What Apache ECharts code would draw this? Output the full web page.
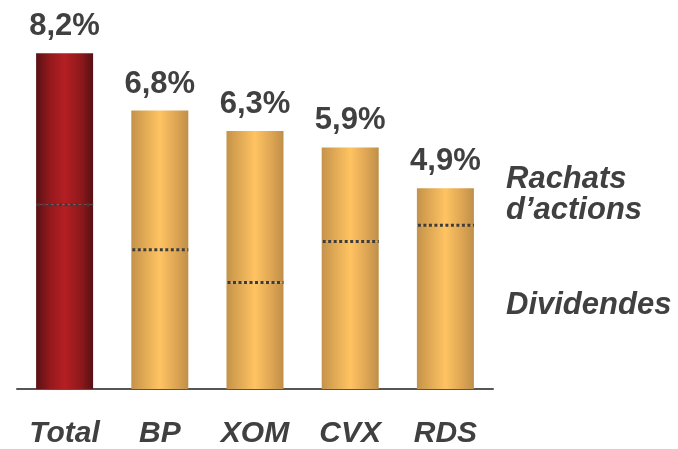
<!DOCTYPE html>
<html>
<head>
<meta charset="utf-8">
<script src="https://cdn.jsdelivr.net/npm/echarts@6/dist/echarts.min.js"></script>
<style>
  html, body { margin: 0; padding: 0; background: #fff; }
  #main { width: 678px; height: 449px; }
</style>
</head>
<body>
<div id="main"></div>
<script>
var categories = ['Total', 'BP', 'XOM', 'CVX', 'RDS'];
var totalYield = [8.2, 6.8, 6.3, 5.9, 4.9];
var dividends = [4.5, 3.4, 2.6, 3.6, 4.0];
var buybacks = totalYield.map(function (t, i) { return +(t - dividends[i]).toFixed(1); });

var FONT = 'Liberation Sans, Arial, sans-serif';
var TEXT = '#404040';
var BAR_W = 57;

function goldGrad() {
  return new echarts.graphic.LinearGradient(0, 0, 1, 0, [
    { offset: 0, color: '#c4924a' },
    { offset: 0.2, color: '#dca653' },
    { offset: 0.5, color: '#ffc362' },
    { offset: 0.8, color: '#dca453' },
    { offset: 1, color: '#bf8f48' }
  ]);
}
function redGrad() {
  return new echarts.graphic.LinearGradient(0, 0, 1, 0, [
    { offset: 0, color: '#5a1115' },
    { offset: 0.25, color: '#95191d' },
    { offset: 0.5, color: '#b41f23' },
    { offset: 0.8, color: '#8c181b' },
    { offset: 1, color: '#561014' }
  ]);
}
function styled(vals) {
  return vals.map(function (v, i) {
    return { value: v, itemStyle: { color: i === 0 ? redGrad() : goldGrad() } };
  });
}

var dom = document.getElementById('main');
var myChart = echarts.init(dom, null, { renderer: 'canvas' });

var option = {
  animation: false,
  grid: { left: 17, right: 185, top: 0, bottom: 58 },
  xAxis: {
    type: 'category',
    data: categories,
    axisTick: { show: false },
    axisLine: { lineStyle: { color: '#555', width: 2 } },
    axisLabel: {
      margin: 30,
      color: TEXT,
      fontFamily: FONT,
      fontSize: 30,
      fontWeight: 'bold',
      fontStyle: 'italic'
    }
  },
  yAxis: {
    type: 'value',
    min: 0,
    max: 9.5,
    show: false,
    splitLine: { show: false }
  },
  series: [
    {
      name: 'Dividendes',
      type: 'bar',
      stack: 'yield',
      barWidth: BAR_W,
      data: styled(dividends)
    },
    {
      name: 'Rachats d\u2019actions',
      type: 'bar',
      stack: 'yield',
      barWidth: BAR_W,
      data: styled(buybacks),
      label: {
        show: true,
        position: 'top',
        distance: 11,
        color: TEXT,
        fontFamily: FONT,
        fontSize: 31,
        fontWeight: 'bold',
        formatter: function (p) {
          return totalYield[p.dataIndex].toFixed(1).replace('.', ',') + '%';
        }
      }
    },
    {
      // pointillés de séparation dividendes / rachats
      type: 'custom',
      z: 5,
      data: dividends.map(function (d, i) { return [i, d]; }),
      renderItem: function (params, api) {
        var p = api.coord([api.value(0), api.value(1)]);
        return {
          type: 'line',
          shape: { x1: p[0] - BAR_W / 2 + 1, y1: p[1], x2: p[0] + BAR_W / 2, y2: p[1] },
          style: { stroke: '#3c3c3c', lineWidth: 3, lineDash: [3, 2.5] }
        };
      }
    }
  ],
  graphic: [
    {
      type: 'text', left: 506, top: 164,
      style: { text: 'Rachats\nd\u2019actions', fill: TEXT, font: 'italic bold 31px ' + FONT, lineHeight: 31 }
    },
    {
      type: 'text', left: 506, top: 290,
      style: { text: 'Dividendes', fill: TEXT, font: 'italic bold 31px ' + FONT }
    }
  ]
};

myChart.setOption(option);
window.addEventListener('resize', myChart.resize);
</script>
</body>
</html>
